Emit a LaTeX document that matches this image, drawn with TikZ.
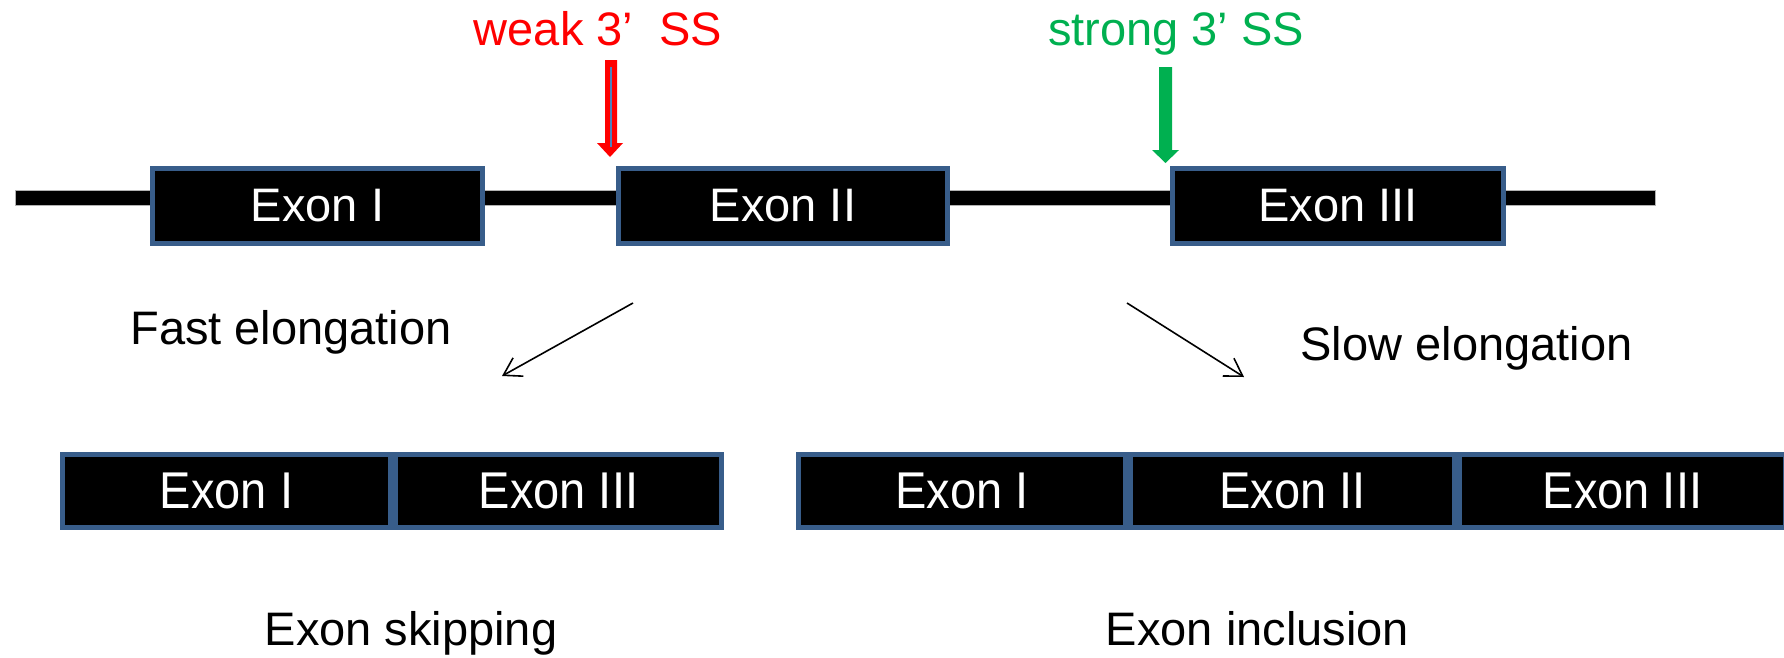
\documentclass[tikz,border=0pt]{standalone}
\usepackage{fontspec}
\setmainfont{Liberation Sans}
\usetikzlibrary{arrows.meta}
\definecolor{exonblue}{RGB}{56,93,138}
\definecolor{ssgreen}{RGB}{0,176,80}
\definecolor{shaftblue}{RGB}{79,129,189}
\newcommand{\tallx}[1]{\scalebox{1}[1.1]{#1}}
\begin{document}
\begin{tikzpicture}[x=1pt,y=-1pt,
  exon/.style={fill=black, draw=exonblue, line width=5pt, text=white,
    font=\fontsize{47}{56}\selectfont, minimum height=75pt, inner sep=0pt, anchor=center},
  lbl/.style={font=\fontsize{47}{56}\selectfont, inner sep=0pt, anchor=base},
  elong/.style={line width=1.6pt, -{Straight Barb[length=17pt,width=21pt]}}]
\useasboundingbox (0,0) rectangle (1784,657);
\clip (0,0) rectangle (1784,657);
% pre-mRNA line
\fill[black, draw=gray!60, line width=0.8pt] (15,190.5) rectangle (1655,205);
% top exons
\node[exon, minimum width=330pt] (t1) at (317.5,206) {Exon I};
\node[exon, minimum width=329pt] (t2) at (783,206) {Exon II};
\node[exon, minimum width=331pt] (t3) at (1338,206) {Exon III};
% splice site labels
\node[lbl, text=red] (weak) at (598,45) {weak 3’\ \ SS};
\node[lbl, text=ssgreen] (strong) at (1176,45) {strong 3’ SS};
% red arrow
\fill[red] (605,60) -- (617,60) -- (617,143) -- (623,143) -- (610,157) -- (597,143) -- (605,143) -- cycle;
\draw[shaftblue, line width=2.5pt] (611,67) -- (611,147);
% green arrow
\fill[ssgreen] (1159,67) -- (1172,67) -- (1172,150) -- (1179,150) -- (1165.5,163) -- (1152,150) -- (1159,150) -- cycle;
% elongation labels
\node[lbl] (fast) at (291,344) {Fast elongation};
\node[lbl] (slow) at (1466.5,360) {Slow elongation};
% elongation arrows
\coordinate (fa) at (633,303);
\coordinate (fb) at (502,376);
\coordinate (sa) at (1127,303);
\coordinate (sb) at (1244,377);
\draw[elong] (fa) -- (fb);
\draw[elong] (sa) -- (sb);
% skipping product
\node[exon, minimum width=328pt, minimum height=73pt] (b1) at (226.5,491) {\tallx{Exon I}};
\node[exon, minimum width=326pt, minimum height=73pt] (b3) at (558.5,491) {\tallx{Exon III}};
% inclusion product
\node[exon, minimum width=327pt, minimum height=73pt] (c1) at (962,491) {\tallx{Exon I}};
\node[exon, minimum width=324pt, minimum height=73pt] (c2) at (1292.5,491) {\tallx{Exon II}};
\node[exon, minimum width=326pt, minimum height=73pt] (c3) at (1622.5,491) {\tallx{Exon III}};
% outcome labels
\node[lbl] (skip) at (411,645) {Exon skipping};
\node[lbl] (incl) at (1257.5,645) {Exon inclusion};
\end{tikzpicture}
\end{document}
